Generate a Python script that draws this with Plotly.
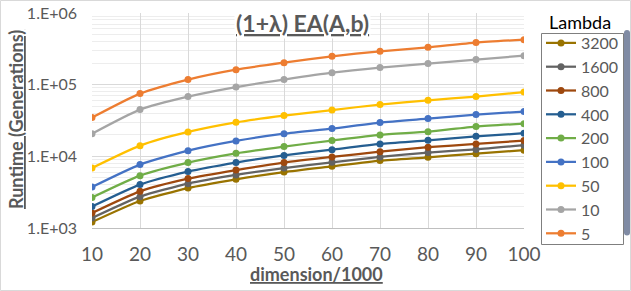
import plotly.graph_objects as go

dimension = [10, 20, 30, 40, 50, 60, 70, 80, 90, 100]

lam_5 = [34700, 75000, 117800, 162000, 203000, 249000, 292000, 332000, 387000, 425000]
lam_10 = [20700, 44900, 68100, 92700, 117700, 147000, 173000, 197000, 224000, 254000]
lam_50 = [6870, 14100, 21900, 29800, 37000, 44300, 52700, 60500, 68100, 79000]
lam_100 = [3730, 7670, 12000, 16400, 20700, 24400, 29600, 33600, 38200, 42100]
lam_200 = [2660, 5380, 8170, 11000, 13700, 16600, 19900, 22100, 26000, 28600]
lam_400 = [1990, 4030, 6120, 8170, 10300, 12400, 14900, 16700, 19000, 21000]
lam_800 = [1620, 3250, 4890, 6440, 8170, 9800, 11600, 13400, 14900, 16600]
lam_1600 = [1380, 2740, 4160, 5500, 6870, 8260, 9800, 11300, 12500, 14300]
lam_3200 = [1210, 2380, 3610, 4780, 6040, 7260, 8720, 9690, 10900, 12200]

series = [
    ("3200", lam_3200, "#997300"),
    ("1600", lam_1600, "#636363"),
    ("800", lam_800, "#9E480E"),
    ("400", lam_400, "#255E91"),
    ("200", lam_200, "#70AD47"),
    ("100", lam_100, "#4472C4"),
    ("50", lam_50, "#FFC000"),
    ("10", lam_10, "#A5A5A5"),
    ("5", lam_5, "#ED7D31"),
]

y_tickvals = [1e3, 1e4, 1e5, 1e6]
y_ticktext = ["1.E+03", "1.E+04", "1.E+05", "1.E+06"]
x_tickvals = dimension

W, H = 631, 291
ML, MR, MT, MB = 92, 107, 13, 63
PW, PH = W - ML - MR, H - MT - MB

FONT = "Lato"
TXT = "#595959"


def px(xp):
    return (xp - ML) / PW


def py(yp):
    return (MT + PH - yp) / PH


fig = go.Figure()
for name, vals, color in series:
    fig.add_trace(go.Scatter(
        x=dimension, y=vals, name=name, mode="lines+markers",
        line=dict(color=color, width=2.25, shape="spline", smoothing=0.6),
        marker=dict(color=color, size=7),
    ))

minor_vals = [m * 10 ** d for d in range(3, 6) for m in range(2, 10)]

fig.update_layout(
    width=W, height=H,
    margin=dict(l=ML, r=MR, t=MT, b=MB, autoexpand=False),
    paper_bgcolor="white", plot_bgcolor="white",
    font=dict(family=FONT, color=TXT),
    showlegend=True,
    legend=dict(
        x=px(541), xanchor="left",
        y=py(26), yanchor="top",
        font=dict(family=FONT, size=16, color=TXT),
        borderwidth=0,
        bgcolor="rgba(0,0,0,0)",
        itemwidth=30,
    ),
    xaxis=dict(
        range=[10, 100], tickvals=x_tickvals,
        showgrid=True, gridcolor="#D9D9D9", gridwidth=1,
        showline=True, linecolor="#BFBFBF", linewidth=1,
        zeroline=False, ticks="",
        tickfont=dict(family=FONT, size=19, color=TXT),
        ticklabelstandoff=9,
    ),
    yaxis=dict(
        type="log", range=[3, 6],
        tickvals=y_tickvals, ticktext=y_ticktext,
        showgrid=True, gridcolor="#D9D9D9", gridwidth=1,
        showline=False, zeroline=False, ticks="",
        tickfont=dict(family=FONT, size=16, color=TXT),
        ticklabelstandoff=14,
        minor=dict(tickvals=minor_vals, showgrid=True, gridcolor="#EDEDED", gridwidth=1, ticks=""),
    ),
    annotations=[
        dict(text="<b><u>(1+λ) EA(A,b)</u></b>", xref="paper", yref="paper",
             x=px(302), y=py(23), xanchor="center", yanchor="middle",
             showarrow=False, font=dict(family=FONT, size=23, color=TXT), bgcolor="white"),
        dict(text="<b><u>dimension/1000</u></b>", xref="paper", yref="paper",
             x=px(316), y=py(274), xanchor="center", yanchor="middle",
             showarrow=False, font=dict(family=FONT, size=18, color=TXT)),
        dict(text="<b><u>Runtime (Generations)</u></b>", xref="paper", yref="paper",
             x=px(16), y=py(120), xanchor="center", yanchor="middle",
             textangle=-90, showarrow=False, font=dict(family=FONT, size=18, color=TXT)),
        dict(text="Lambda", xref="paper", yref="paper",
             x=px(580), y=py(22), xanchor="center", yanchor="middle",
             showarrow=False, font=dict(family=FONT, size=18, color="#000000")),
    ],
    shapes=[
        dict(type="rect", xref="paper", yref="paper",
             x0=px(0.5), x1=px(W - 0.5), y0=py(H - 0.5), y1=py(0.5),
             line=dict(color="#D9D9D9", width=1), layer="below"),
        dict(type="rect", xref="paper", yref="paper",
             x0=px(541.5), x1=px(623.5), y0=py(244.5), y1=py(33.5),
             line=dict(color="#7F7F7F", width=1), fillcolor="white", layer="below"),
    ],
)

fig.write_html(
    "out.html",
    config={"displayModeBar": False},
    post_script="document.body.style.margin='0';document.body.style.padding='0';",
)
